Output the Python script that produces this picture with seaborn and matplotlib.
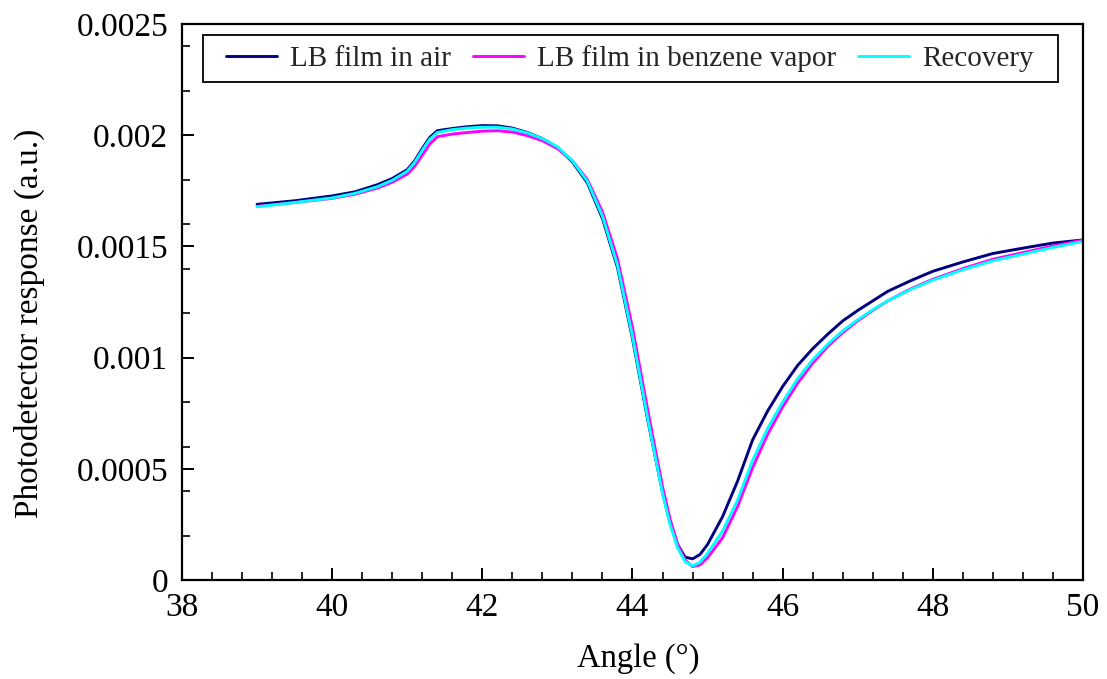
import numpy as np
import pandas as pd
import matplotlib
matplotlib.use("Agg")
import matplotlib.pyplot as plt
from matplotlib.ticker import MultipleLocator, FuncFormatter
from matplotlib.patches import Rectangle
import seaborn as sns

# ---- data ----
angle_air = [39.0, 39.5, 40.0, 40.3, 40.6, 40.8, 41.0, 41.1, 41.2, 41.3, 41.4, 41.6, 41.8,
             42.0, 42.2, 42.4, 42.6, 42.8, 43.0, 43.2, 43.4, 43.6, 43.8, 44.0, 44.2, 44.4,
             44.5, 44.6, 44.7, 44.8, 44.9, 45.0, 45.2, 45.4, 45.6, 45.8, 46.0, 46.2, 46.4,
             46.6, 46.8, 47.0, 47.2, 47.4, 47.7, 48.0, 48.4, 48.8, 49.2, 49.6, 50.0]
resp_air = [0.001689, 0.001705, 0.001727, 0.001745, 0.001777, 0.001805, 0.001845, 0.001885,
            0.001940, 0.001990, 0.002020, 0.002030, 0.002038, 0.002043, 0.002042, 0.002032,
            0.002012, 0.001985, 0.001945, 0.001880, 0.001785, 0.001625, 0.001405, 0.001085,
            0.000725, 0.000395, 0.000260, 0.000160, 0.000103, 0.000095, 0.000115, 0.000160,
            0.000285, 0.000445, 0.000630, 0.000760, 0.000870, 0.000965, 0.001040, 0.001105,
            0.001165, 0.001212, 0.001255, 0.001298, 0.001345, 0.001388, 0.001430, 0.001468,
            0.001492, 0.001515, 0.001529]

angle_benz = angle_air
resp_benz = [0.001680, 0.001697, 0.001716, 0.001734, 0.001762, 0.001788, 0.001825, 0.001860,
             0.001910, 0.001960, 0.001993, 0.002005, 0.002012, 0.002018, 0.002020, 0.002014,
             0.001998, 0.001975, 0.001940, 0.001885, 0.001800, 0.001655, 0.001445, 0.001135,
             0.000770, 0.000420, 0.000275, 0.000160, 0.000090, 0.000060, 0.000068, 0.000100,
             0.000190, 0.000330, 0.000505, 0.000655, 0.000778, 0.000885, 0.000975, 0.001050,
             0.001112, 0.001165, 0.001212, 0.001255, 0.001308, 0.001352, 0.001400, 0.001442,
             0.001472, 0.001502, 0.001528]

angle_rec = angle_air
resp_rec = [0.001678, 0.001697, 0.001718, 0.001738, 0.001768, 0.001797, 0.001838, 0.001878,
            0.001932, 0.001982, 0.002012, 0.002025, 0.002032, 0.002036, 0.002036, 0.002028,
            0.002010, 0.001985, 0.001948, 0.001885, 0.001792, 0.001635, 0.001415, 0.001095,
            0.000730, 0.000390, 0.000250, 0.000145, 0.000083, 0.000063, 0.000080, 0.000120,
            0.000220, 0.000360, 0.000538, 0.000682, 0.000800, 0.000905, 0.000990, 0.001060,
            0.001120, 0.001170, 0.001215, 0.001255, 0.001305, 0.001348, 0.001395, 0.001435,
            0.001465, 0.001495, 0.001522]

series_names = ["LB film in air", "LB film in benzene vapor", "Recovery"]
series_colors = ["#000080", "#FF00FF", "#00FFFF"]

df = pd.concat([
    pd.DataFrame({"Angle": angle_air, "Response": resp_air, "Series": series_names[0]}),
    pd.DataFrame({"Angle": angle_benz, "Response": resp_benz, "Series": series_names[1]}),
    pd.DataFrame({"Angle": angle_rec, "Response": resp_rec, "Series": series_names[2]}),
], ignore_index=True)

sns.set_theme(style="white")
plt.rcParams["font.family"] = ["Liberation Serif", "DejaVu Serif"]

fig = plt.figure(figsize=(11.07, 6.79), dpi=100)
ax = fig.add_axes([0.1644, 0.1458, 0.9783 - 0.1644, 0.9647 - 0.1458])

sns.lineplot(data=df, x="Angle", y="Response", hue="Series", hue_order=series_names,
             palette=dict(zip(series_names, series_colors)), linewidth=2.1, ax=ax,
             sort=False, estimator=None)
for ln in ax.get_lines():
    ln.set_solid_joinstyle("round")

ax.set_xlim(38, 50)
ax.set_ylim(0, 0.0025)
ax.xaxis.set_major_locator(MultipleLocator(2))
ax.xaxis.set_minor_locator(MultipleLocator(0.4))
ax.yaxis.set_major_locator(MultipleLocator(0.0005))
ax.yaxis.set_minor_locator(MultipleLocator(0.0002))
ax.yaxis.set_major_formatter(FuncFormatter(lambda v, p: "{:g}".format(round(v, 6))))
ax.xaxis.set_major_formatter(FuncFormatter(lambda v, p: "{:g}".format(round(v, 3))))

ax.tick_params(axis="both", which="major", direction="in", length=8.6, width=1.4,
               labelsize=24, colors="black", bottom=True, left=True, top=False, right=False)
ax.tick_params(axis="both", which="minor", direction="in", length=5.8, width=1.4,
               bottom=True, left=True, top=False, right=False)
ax.tick_params(axis="x", which="major", pad=9)
ax.tick_params(axis="y", which="major", pad=10)

for side in ["left", "bottom", "top", "right"]:
    ax.spines[side].set_visible(True)
    ax.spines[side].set_color("black")
    ax.spines[side].set_linewidth(1.6)

ax.set_xlabel("Angle (°)", fontsize=23.5, color="black")
ax.set_ylabel("Photodetector response (a.u.)", fontsize=24, color="black")
ax.xaxis.label.set_verticalalignment("center")
ax.xaxis.label.set_horizontalalignment("center")
ax.xaxis.set_label_coords(0.506, -0.141)
ax.yaxis.label.set_verticalalignment("center")
ax.yaxis.label.set_horizontalalignment("center")
ax.yaxis.set_label_coords(-0.169, 0.462)
ax.grid(False)

leg = ax.legend(loc="upper center", bbox_to_anchor=(0.4975, 0.978), ncol=3,
                fontsize=21, frameon=False,
                handlelength=1.75, handletextpad=0.45, columnspacing=0.75,
                borderpad=0.3, borderaxespad=0.0, title=None)
for line in leg.get_lines():
    line.set_linewidth(2.1)
leg.set_zorder(6)

# frame drawn around the legend, wider horizontally than the default padding
fig.canvas.draw()
bb = leg.get_window_extent(fig.canvas.get_renderer())
inv = ax.transAxes.inverted()
padx, pady = 15, 1
(x0, y0) = inv.transform((bb.x0 - padx, bb.y0 - pady))
(x1, y1) = inv.transform((bb.x1 + padx, bb.y1 + pady))
frame = Rectangle((x0, y0), x1 - x0, y1 - y0, transform=ax.transAxes,
                  facecolor="white", edgecolor="black", linewidth=1.3, zorder=5,
                  clip_on=False)
ax.add_patch(frame)

fig.savefig("out.png", dpi=100)
